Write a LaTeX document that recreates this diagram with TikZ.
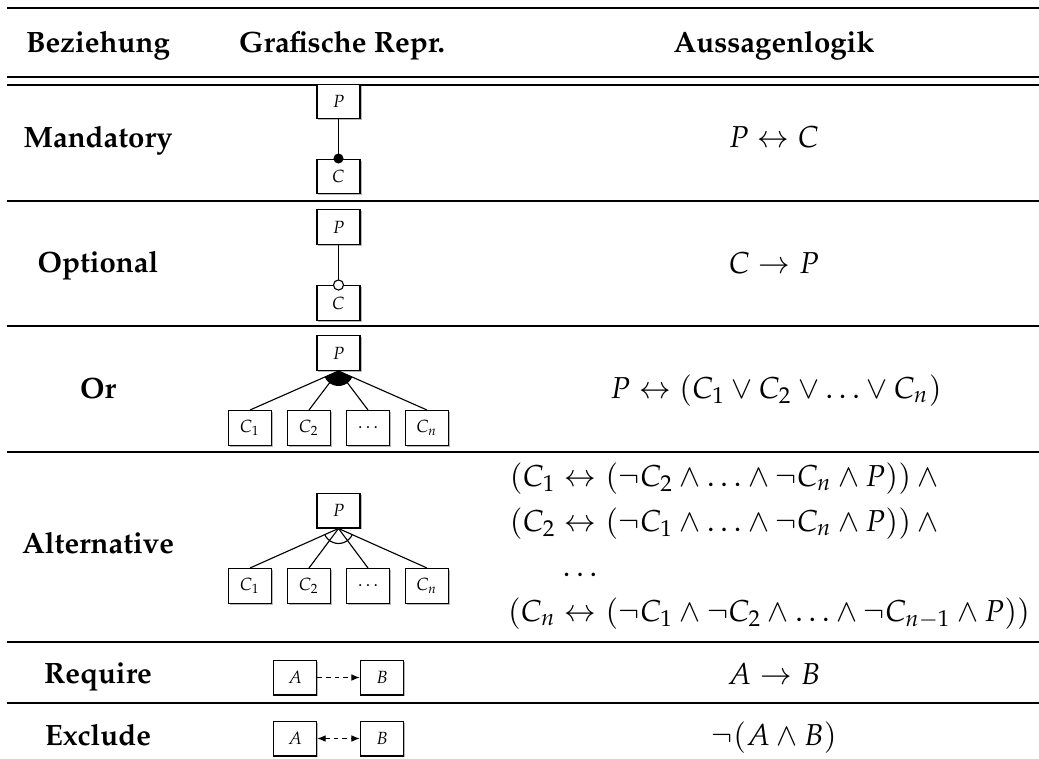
\documentclass[tikz,border=0pt]{standalone}
\usepackage[T1]{fontenc}
\usepackage{mathpazo}
\usetikzlibrary{arrows.meta,shadows}

\tikzset{
  fbox/.style={draw, line width=0.45pt, fill=white, minimum width=15.4pt, minimum height=12.4pt,
    inner sep=0pt, font=\fontsize{6.3}{7}\selectfont,
    drop shadow={shadow xshift=0.55pt, shadow yshift=-0.55pt, fill=black!35, opacity=0.8}},
  link/.style={line width=0.4pt},
  rulethick/.style={line width=0.75pt},
  rulethin/.style={line width=0.45pt},
  rowlabel/.style={font=\bfseries\fontsize{10.5}{12}\selectfont, anchor=base, inner sep=0pt},
  headlabel/.style={font=\bfseries\fontsize{10.5}{12}\selectfont, anchor=base, inner sep=0pt},
  logic/.style={font=\fontsize{10.8}{13}\selectfont, anchor=base, inner sep=0pt},
  logicw/.style={logic, anchor=base west},
  logice/.style={logic, anchor=base east},
  reqarrow/.style={line width=0.4pt, dash pattern=on 1.7pt off 1.4pt, -{Latex[length=3pt,width=2.4pt]}},
  excarrow/.style={line width=0.4pt, dash pattern=on 1.7pt off 1.4pt, {Latex[length=3pt,width=2.4pt]}-{Latex[length=3pt,width=2.4pt]}},
}

\begin{document}
\begin{tikzpicture}[x=0.357pt, y=-0.357pt]
\useasboundingbox (0,0) rectangle (1039,758);

% table rules
\draw[rulethick] (7,8) -- (1039,8);
\draw[rulethin] (7,77) -- (1039,77);
\draw[rulethin] (7,85) -- (1039,85);
\draw[rulethin] (7,201) -- (1039,201);
\draw[rulethin] (7,326) -- (1039,326);
\draw[rulethin] (7,452) -- (1039,452);
\draw[rulethin] (7,642) -- (1039,642);
\draw[rulethin] (7,703) -- (1039,703);

% header
\node[headlabel] (h1) at (98,53) {Beziehung};
\node[headlabel] (h2) at (342,53) {Grafische Repr.};
\node[headlabel] (h3) at (774,53) {Aussagenlogik};

% row labels
\node[rowlabel] (l1) at (98,147) {Mandatory};
\node[rowlabel] (l2) at (98,272) {Optional};
\node[rowlabel] (l3) at (98,398) {Or};
\node[rowlabel] (l4) at (98,553) {Alternative};
\node[rowlabel] (l5) at (98,683) {Require};
\node[rowlabel] (l6) at (98,745) {Exclude};

% Mandatory
\node[fbox] (mp) at (338.5,101.5) {$P$};
\node[fbox] (mc) at (338.5,176.5) {$C$};
\draw[link] (mp.south) -- (mc.north);
\fill (mc.north) circle (1.8pt);

% Optional
\node[fbox] (op) at (338.5,227) {$P$};
\node[fbox] (oc) at (338.5,303) {$C$};
\draw[link] (op.south) -- (oc.north);
\draw[link, fill=white] (oc.north) circle (1.8pt);

% Or
\node[fbox] (rp) at (338.5,353) {$P$};
\node[fbox] (r1) at (250,428) {$C_1$};
\node[fbox] (r2) at (309,428) {$C_2$};
\node[fbox] (r3) at (368,428) {$\dots$};
\node[fbox] (r4) at (427,428) {$C_n$};
\foreach \c in {r1,r2,r3,r4} \draw[link] (rp.south) -- (\c.north);
\begin{scope}
  \clip (rp.south) circle (15);
  \fill (rp.south) -- (r1.north) -- (r4.north) -- cycle;
\end{scope}

% Alternative
\node[fbox] (ap) at (338.5,510.5) {$P$};
\node[fbox] (a1) at (250,586) {$C_1$};
\node[fbox] (a2) at (309,586) {$C_2$};
\node[fbox] (a3) at (368,586) {$\dots$};
\node[fbox] (a4) at (427,586) {$C_n$};
\foreach \c in {a1,a2,a3,a4} \draw[link] (ap.south) -- (\c.north);
\begin{scope}
  \clip (ap.south) -- (a1.north) -- (a4.north) -- cycle;
  \draw[link] (ap.south) circle (15);
\end{scope}

% Require
\node[fbox] (qa) at (295,677.5) {$A$};
\node[fbox] (qb) at (382,677.5) {$B$};
\draw[reqarrow] (qa.east) -- (qb.west);

% Exclude
\node[fbox] (xa) at (295,738.5) {$A$};
\node[fbox] (xb) at (382,738.5) {$B$};
\draw[excarrow] (xa.east) -- (xb.west);

% propositional logic
\node[logic] (f1) at (774,148) {$P \leftrightarrow C$};
\node[logic] (f2) at (774,273) {$C \rightarrow P$};
\node[logic] (f3) at (776,398) {$P \leftrightarrow (C_1 \vee C_2 \vee \ldots \vee C_n)$};
% alternative: left parts end at the arrow, right parts start at a common column
\node[logice] (f4al) at (597,486) {$(C_1 \leftrightarrow$};
\node[logicw] (f4ar) at (605,486) {$(\neg C_2 \wedge \ldots \wedge \neg C_n \wedge P)) \wedge {}$};
\node[logice] (f4bl) at (597,531) {$(C_2 \leftrightarrow$};
\node[logicw] (f4br) at (605,531) {$(\neg C_1 \wedge \ldots \wedge \neg C_n \wedge P)) \wedge {}$};
\node[logicw] (f4c) at (562,576) {$\ldots$};
\node[logice] (f4dl) at (597,621) {$(C_n \leftrightarrow$};
\node[logicw] (f4dr) at (605,621) {$(\neg C_1 \wedge \neg C_2 \wedge \ldots \wedge \neg C_{n-1} \wedge P))$};
\node[logic] (f5) at (774,684) {$A \rightarrow B$};
\node[logic] (f6) at (774,745) {$\neg(A \wedge B)$};
\end{tikzpicture}
\end{document}
